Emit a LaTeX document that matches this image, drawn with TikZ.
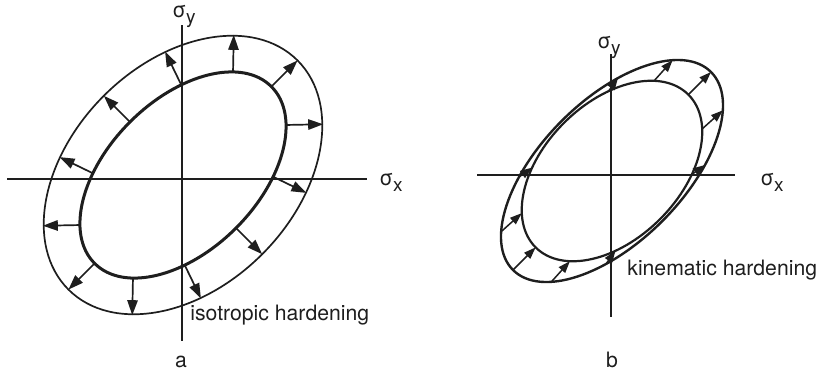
\documentclass[tikz,border=0pt]{standalone}
\usepackage{fontspec}
\setmainfont{TeX Gyre Heros}
\usepackage{tikz}
\usetikzlibrary{arrows.meta}
\definecolor{trait}{HTML}{1E1E1E}
\newcommand{\sig}[1]{σ\raisebox{-3pt}{\fontsize{9.5}{9.5}\selectfont #1}}
\tikzset{
  axe/.style={line width=1.3pt, draw=trait},
  ringin/.style={line width=1.5pt, draw=trait},
  ringout/.style={line width=0.85pt, draw=trait},
  arr/.style={-{Triangle[length=7.5pt,width=5.2pt]}, line width=0.85pt, draw=trait},
  arrk/.style={-{Triangle[length=6pt,width=4.2pt]}, line width=0.75pt, draw=trait},
  lbl/.style={inner sep=0pt, anchor=base west, font=\fontsize{10.6}{12}\selectfont, text=trait},
}

\begin{document}
\begin{tikzpicture}[x=0.5pt, y=-0.5pt]
  \useasboundingbox (0,0) rectangle (816,371);
  \coordinate (ya1) at (182,25);  \coordinate (ya2) at (182,341);
  \coordinate (xa1) at (7,179);   \coordinate (xa2) at (367,179);
  \draw[axe] (ya1) -- (ya2); \draw[axe] (xa1) -- (xa2);
  \begin{scope}[shift={(183,175)}, rotate=45]
    \draw[ringout] (0,0) ellipse [x radius=162, y radius=112];
    \draw[ringin] (0,0) ellipse [x radius=125, y radius=75];
    \foreach \t in {0,30,...,330} {
      \pgfmathsetmacro{\nx}{75*cos(\t)}
      \pgfmathsetmacro{\ny}{125*sin(\t)}
      \pgfmathsetmacro{\nl}{37/veclen(\nx,\ny)}
      \draw[arr] ({125*cos(\t)},{75*sin(\t)}) -- ++({\nx*\nl},{\ny*\nl});
    }
  \end{scope}
  \node[lbl] (sya) at (172,17) {\sig{y}};
  \node[lbl] (sxa) at (379,185) {\sig{x}};
  \node[lbl] (iso) at (190,320) {isotropic hardening};
  \node[lbl, anchor=base] (pa) at (181,367) {a};

  \coordinate (yb1) at (611,54);  \coordinate (yb2) at (611,317);
  \coordinate (xb1) at (477,175); \coordinate (xb2) at (735,175);
  \draw[axe] (yb1) -- (yb2); \draw[axe] (xb1) -- (xb2);
  \begin{scope}[shift={(612,171)}, rotate=45]
    \draw[ringout, line width=1.2pt] (0,0) ellipse [x radius=140, y radius=71];
    \draw[ringin, line width=1.1pt] (0,0) ellipse [x radius=108, y radius=68];
    \foreach \t in {-60,-30,...,60}
      \draw[arrk] ({108*cos(\t)},{68*sin(\t)}) -- ({140*cos(\t)},{71*sin(\t)});
    \foreach \t in {120,150,...,240}
      \draw[arrk] ({140*cos(\t)},{71*sin(\t)}) -- ({108*cos(\t)},{68*sin(\t)});
  \end{scope}
  \node[lbl] (syb) at (597,48) {\sig{y}};
  \node[lbl] (sxb) at (760,185) {\sig{x}};
  \node[lbl] (kin) at (627,275) {kinematic hardening};
  \node[lbl, anchor=base] (pb) at (612,367) {b};
\end{tikzpicture}
\end{document}
